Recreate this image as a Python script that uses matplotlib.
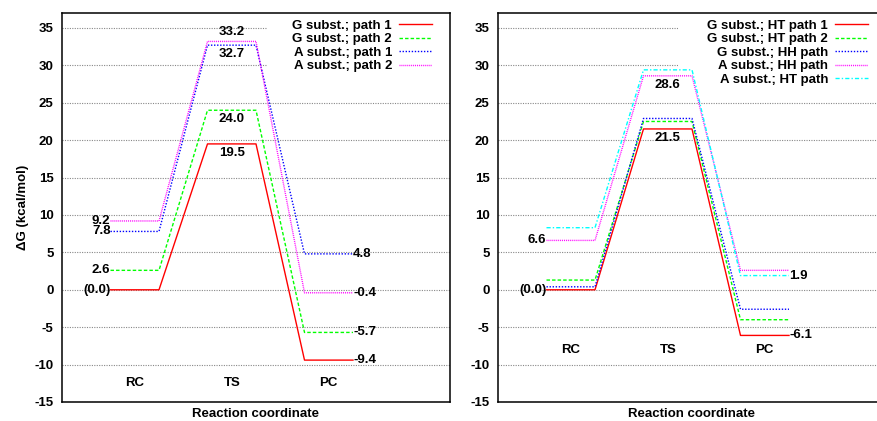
import matplotlib
matplotlib.use('Agg')
import matplotlib.pyplot as plt
from matplotlib.patches import Rectangle

plt.rcParams['font.family'] = ['Liberation Sans', 'DejaVu Sans']
plt.rcParams['font.weight'] = 'bold'
plt.rcParams['axes.labelweight'] = 'bold'
plt.rcParams['axes.unicode_minus'] = False
plt.rcParams['font.size'] = 9.5

# stages of the reaction
stages = ['RC', 'TS', 'PC']

# left panel
left_names = ['G subst.; path 1', 'G subst.; path 2', 'A subst.; path 1', 'A subst.; path 2']
left_values = [
    [0.0, 19.5, -9.4],
    [2.6, 24.0, -5.7],
    [7.8, 32.7, 4.8],
    [9.2, 33.2, -0.4],
]
# which stages get a number written next to them (RC, TS, PC)
left_shown = [
    [True, True, True],
    [True, True, True],
    [True, True, True],
    [True, True, True],
]
left_ts_above = [False, False, False, True]

# right panel
right_names = ['G subst.; HT path 1', 'G subst.; HT path 2', 'G subst.; HH path',
               'A subst.; HH path', 'A subst.; HT path']
right_values = [
    [0.0, 21.5, -6.1],
    [1.3, 22.5, -4.0],
    [0.4, 22.9, -2.6],
    [6.6, 28.6, 2.6],
    [8.3, 29.4, 1.9],
]
right_shown = [
    [True, True, True],
    [False, False, False],
    [False, False, False],
    [True, True, False],
    [False, False, True],
]
right_ts_above = [False, False, False, False, False]

colors = ['#ff0000', '#00ff00', '#0000ff', '#ff00ff', '#00ffff']
dashes = [None, (2.5, 1.5), (1, 1.2), (0.7, 0.7), (3, 1.5, 1, 1.5)]


def fmt(v):
    if v == 0:
        return '(0.0)'
    return '%.1f' % v


def panel(ax, names, values, shown, ts_above, stage_y, legend_box):
    ax.set_xlim(0, 4)
    ax.set_ylim(-15, 37)
    ax.set_yticks(range(-15, 36, 5))
    ax.set_xticks([])
    ax.tick_params(axis='y', length=0, pad=6)
    ax.yaxis.grid(True, color='#888888', linestyle=(0, (1, 1.2)), linewidth=0.8)
    ax.set_axisbelow(True)
    for s in ax.spines.values():
        s.set_linewidth(1.1)
    # white key background hides the grid behind the legend
    ax.add_patch(Rectangle(legend_box[0], legend_box[1], legend_box[2],
                           transform=ax.transAxes, facecolor='white',
                           edgecolor='none', zorder=1))

    for i, (name, vals) in enumerate(zip(names, values)):
        xs, ys = [], []
        for k, v in enumerate(vals):
            xs += [k + 0.5, k + 1.0]
            ys += [v, v]
        line, = ax.plot(xs, ys, color=colors[i], lw=1.0, label=name, zorder=3)
        if dashes[i] is not None:
            line.set_dashes(dashes[i])
        rc, ts, pc = vals
        if shown[i][0]:
            ax.text(0.5, rc, fmt(rc), ha='right', va='center', zorder=4)
        if shown[i][1]:
            dy = 1.2 if ts_above[i] else -1.2
            ax.text(1.75, ts + dy, fmt(ts), ha='center', va='center', zorder=4)
        if shown[i][2]:
            ax.text(3.0, pc, fmt(pc), ha='left', va='center', zorder=4)

    for k, st in enumerate(stages):
        ax.text(k + 0.75, stage_y, st, ha='center', va='center')

    ax.set_xlabel('Reaction coordinate', labelpad=4)
    ax.legend(loc='upper right', bbox_to_anchor=(0.968, 0.998), frameon=False,
              markerfirst=False, handlelength=2.5, handletextpad=0.5,
              labelspacing=0.09, borderaxespad=0.25, borderpad=0.2)


fig = plt.figure(figsize=(8.77, 4.21), dpi=100)
W, H = 877.0, 421.0
ax1 = fig.add_axes([62 / W, (H - 402) / H, 388 / W, 389 / H])
ax2 = fig.add_axes([498 / W, (H - 402) / H, 388 / W, 389 / H])

panel(ax1, left_names, left_values, left_shown, left_ts_above, -12.4,
      ((0.528, 0.85), 0.472, 0.15))
panel(ax2, right_names, right_values, right_shown, right_ts_above, -8.0,
      ((0.464, 0.81), 0.536, 0.19))
ax1.set_ylabel('ΔG (kcal/mol)', labelpad=4)

fig.savefig('out.png', dpi=100)
